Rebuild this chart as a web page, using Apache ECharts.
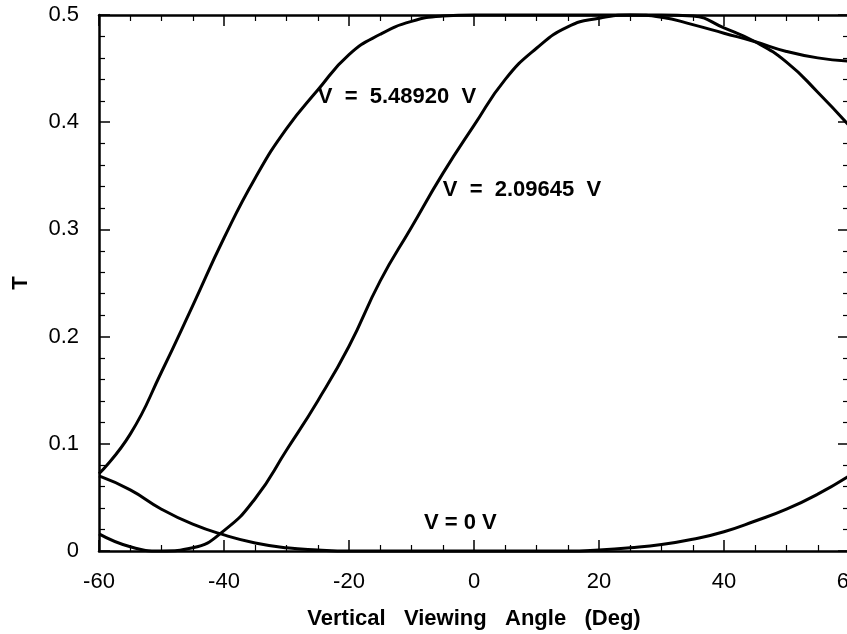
<!DOCTYPE html>
<html>
<head>
<meta charset="utf-8">
<script src="https://cdn.jsdelivr.net/npm/echarts@6/dist/echarts.min.js"></script>
<style>
  html, body { margin: 0; padding: 0; background: #fff; }
  #chart { width: 847px; height: 634px; }
</style>
</head>
<body>
<div id="chart"></div>
<script>
// Viewing angle (deg) at which each transmission curve is sampled
const angles = [-60, -55, -50, -45, -40, -35, -30, -25, -20, -15, -10, -5, 0,
                5, 10, 15, 20, 25, 30, 35, 40, 45, 50, 55, 60];

// Transmission T for V = 5.48920 V
const tHigh = [0.072, 0.109, 0.167, 0.229, 0.292, 0.348, 0.394, 0.430, 0.463, 0.482, 0.494, 0.499, 0.500,
               0.500, 0.500, 0.500, 0.500, 0.500, 0.500, 0.499, 0.488, 0.475, 0.456, 0.428, 0.397];

// Transmission T for V = 2.09645 V
const tMid = [0.016, 0.004, 0.000, 0.003, 0.019, 0.049, 0.094, 0.140, 0.191, 0.252, 0.302, 0.352, 0.397,
              0.440, 0.469, 0.489, 0.497, 0.500, 0.498, 0.491, 0.483, 0.475, 0.466, 0.460, 0.457];

// Transmission T for V = 0 V
const tOff = [0.070, 0.057, 0.039, 0.025, 0.015, 0.0075, 0.003, 0.001, 0.000, 0.000, 0.000, 0.000, 0.000,
              0.000, 0.000, 0.000, 0.001, 0.003, 0.006, 0.011, 0.018, 0.028, 0.039, 0.053, 0.070];

// Axis ticks
const xTicks = { min: -60, max: 60, step: 20 };
const yTicks = { min: 0, max: 0.5, step: 0.1 };

// Curve captions
const captions = ['V  =  5.48920  V', 'V  =  2.09645  V', 'V = 0 V'];

const FONT = '"Liberation Sans", Arial, Helvetica, sans-serif';

const chart = echarts.init(document.getElementById('chart'), null, { renderer: 'canvas' });

const pair = (vals) => angles.map((a, i) => [a, vals[i]]);

const axisLine = { show: true, onZero: false, lineStyle: { color: '#000', width: 2.5 } };
const tick = { show: true, inside: true, length: 11, lineStyle: { color: '#000', width: 1.5 } };

function minor(n) {
  return { show: true, splitNumber: n, length: 6, lineStyle: { color: '#000', width: 1.2 } };
}

function curve(name, vals) {
  return {
    name: name,
    type: 'line',
    data: pair(vals),
    showSymbol: false,
    smooth: 0.5,
    clip: false,
    lineStyle: { color: '#000', width: 3 },
    z: 3
  };
}

chart.setOption({
  animation: false,
  backgroundColor: '#fff',
  grid: { left: 99, top: 15, width: 750, height: 536, containLabel: false, outerBoundsMode: 'none' },
  xAxis: [
    {
      type: 'value', min: xTicks.min, max: xTicks.max, interval: xTicks.step,
      position: 'bottom',
      axisLine: axisLine, axisTick: tick, minorTick: minor(4),
      splitLine: { show: false },
      axisLabel: { show: true, color: '#000', fontSize: 22, fontFamily: FONT, margin: 20, showMaxLabel: true, showMinLabel: true },
      name: 'Vertical   Viewing   Angle   (Deg)',
      nameLocation: 'middle', nameGap: 57,
      nameTextStyle: { color: '#000', fontSize: 22, fontWeight: 'bold', fontFamily: FONT }
    },
    {
      type: 'value', min: xTicks.min, max: xTicks.max, interval: xTicks.step,
      position: 'top',
      axisLine: axisLine, axisTick: tick, minorTick: minor(4),
      splitLine: { show: false }, axisLabel: { show: false }
    }
  ],
  yAxis: [
    {
      type: 'value', min: yTicks.min, max: yTicks.max, interval: yTicks.step,
      position: 'left',
      axisLine: axisLine, axisTick: tick, minorTick: minor(5),
      splitLine: { show: false },
      axisLabel: {
        color: '#000', fontSize: 22, fontFamily: FONT, margin: 20,
        formatter: (v) => (v === 0 ? '0' : v.toFixed(1))
      },
      name: 'T', nameLocation: 'middle', nameGap: 67,
      nameTextStyle: { color: '#000', fontSize: 22, fontWeight: 'bold', fontFamily: FONT }
    },
    {
      type: 'value', min: yTicks.min, max: yTicks.max, interval: yTicks.step,
      position: 'right',
      axisLine: axisLine, axisTick: tick, minorTick: minor(5),
      splitLine: { show: false }, axisLabel: { show: false }
    }
  ],
  series: [
    curve(captions[0], tHigh),
    curve(captions[1], tMid),
    curve(captions[2], tOff)
  ]
});

// Captions anchored in data space next to their curves
const anchors = [[-25.0, 0.4235], [-5.0, 0.337], [-8.0, 0.026]];
chart.setOption({
  graphic: captions.map((txt, i) => {
    const p = chart.convertToPixel({ xAxisIndex: 0, yAxisIndex: 0 }, anchors[i]);
    return {
      type: 'text', x: p[0], y: p[1], z: 10,
      style: {
        text: txt, fill: '#000', font: 'bold 22px ' + FONT,
        textAlign: 'left', textVerticalAlign: 'middle'
      }
    };
  })
});
</script>
</body>
</html>
